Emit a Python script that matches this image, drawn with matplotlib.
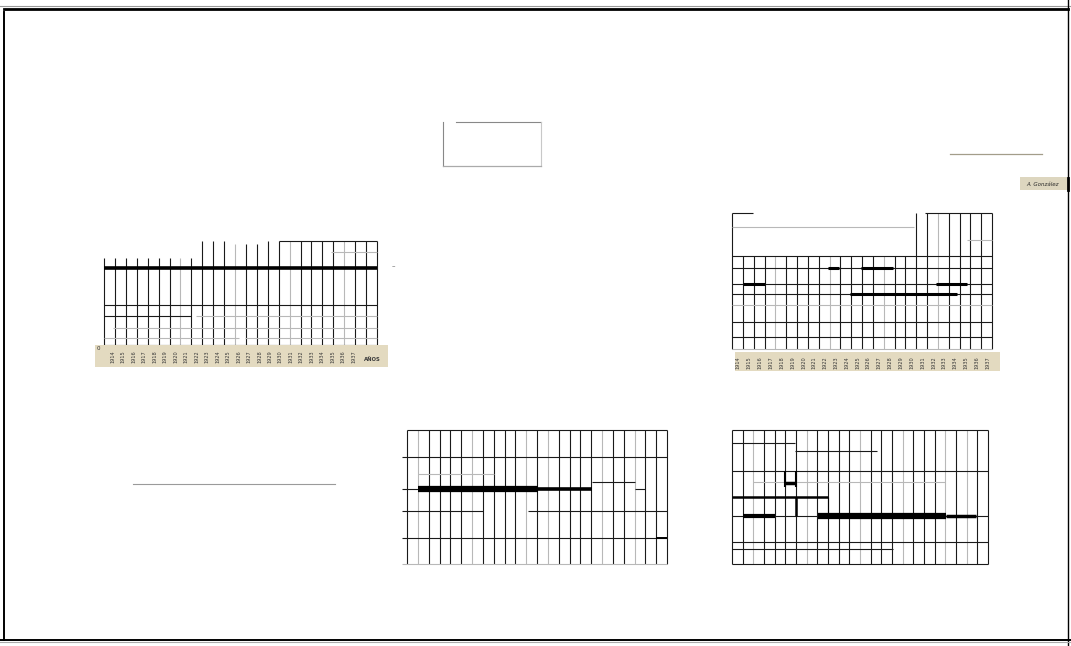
import numpy as np
import matplotlib
matplotlib.use("Agg")
import matplotlib.pyplot as plt
from matplotlib.lines import Line2D
from matplotlib.patches import Rectangle

W, H = 1071, 646

# years printed under the two labelled grids
YEARS = list(range(1914, 1938))

# --- grid A (top left), 25 columns, levels 0-100
A_TOPS = [83] * 9 + [99] * 3 + [96] * 3 + [99] * 11
A_GRAY = [7, 12, 17, 22]
A_LINES = [(99, 16, 25, "k"), (88.6, 20.8, 25, "g"), (38, 0, 25, "k"),
           (27.6, 0, 8, "k"), (27.6, 8.4, 25, "g"), (16, 0.8, 25, "g"),
           (6.7, 0, 12.4, "g"), (6.7, 12.9, 25, "g"), (0, 0, 25, "k")]
A_HEAVY = [(73, 0, 25, 2.6)]

# --- grid B (top right), 24 columns
B_TOPS = [100] + [68.4] * 16 + [100] * 8
B_GRAY = [4, 9, 14, 19]
B_LINES = [(100, 0, 1.9, "k"), (100, 17.8, 24, "k"), (89.7, 0, 16.8, "g"),
           (80, 21.7, 24, "g"), (68.4, 0, 24, "k"), (59.6, 0, 24, "k"),
           (47.8, 0, 24, "k"), (40.4, 0, 24, "k"), (32.4, 0, 24, "g"),
           (19.9, 0, 24, "k"), (8.8, 0, 24, "k"), (0, 0, 24, "g")]
B_HEAVY = [(59.6, 8.9, 9.9, 2.2), (59.6, 11.9, 14.9, 2.2),
           (47.8, 1.0, 3.0, 2.2), (47.8, 18.8, 21.7, 2.2),
           (40.4, 10.9, 20.8, 2.2)]

# --- grid C (bottom middle), 24 columns
C_TOPS = [100] * 25
C_GRAY = [1, 6, 11, 13, 18, 21]
C_LINES = [(100, 0, 24, "k"), (79.9, -0.5, 24, "k"), (67.2, 1, 8, "g"),
           (61.2, 17.1, 21, "k"), (56, -0.5, 1, "k"), (56, 21, 22, "k"),
           (39.6, -0.5, 7, "k"), (39.6, 11.2, 24, "k"), (19.4, -0.5, 24, "k"),
           (0, -0.5, 24, "g")]
C_HEAVY = [(56, 1.0, 12.1, 4.5), (56, 12.1, 17.1, 2.6), (19.4, 23, 24, 1.4)]

# --- grid D (bottom right), 24 columns
D_TOPS = [100] * 25
D_GRAY = [2, 7, 12, 16, 20, 22]
D_LINES = [(100, 0, 24, "k"), (90.5, 0, 5.9, "k"), (84.6, 5.9, 13.6, "k"),
           (69.6, 0, 24, "k"), (61, 2, 20, "g"), (36, 0, 24, "k"),
           (16.7, 0, 24, "k"), (11, 0, 15.1, "k"), (0, 0, 24, "k")]
D_HEAVY = [(50.2, 0, 9, 1.8), (36, 1, 4, 3), (36, 8.1, 20.1, 4.5),
           (36, 20.1, 22.9, 2.5), (60.5, 5, 6, 2.5)]
D_STEPS = [(6, 36, 50.2, 1.8), (9, 36, 50.2, 0.8), (5, 57.6, 69.6, 1.5),
           (6, 57.6, 69.6, 1.5)]

INK = {"k": "#1a1a1a", "g": "#b8b8b8"}
BEIGE = "#e3dac0"


def box(x0, y0, x1, y1):
    return [x0 / W, 1 - y1 / H, (x1 - x0) / W, (y1 - y0) / H]


def grid(fig, px, ncols, tops, gray, lines, heavy):
    ax = fig.add_axes(box(*px))
    ax.set_xlim(0, ncols)
    ax.set_ylim(0, 100)
    ax.axis("off")
    cols = np.arange(ncols + 1)
    colors = [INK["g"] if c in gray else INK["k"] for c in cols]
    ax.vlines(cols, 0, tops, colors=colors, lw=0.8, clip_on=False)
    for y, a, b, c in lines:
        ax.hlines(y, a, b, color=INK[c], lw=0.8, clip_on=False)
    for y, a, b, w in heavy:
        ax.hlines(y, a, b, color="black", lw=w, clip_on=False,
                  capstyle="butt")
    return ax


def year_band(fig, px, grid_px, ncols, offset, spacing=1.0, extra=None):
    gx0, gx1 = grid_px[0], grid_px[2]
    step = (gx1 - gx0) / ncols
    ax = fig.add_axes(box(*px))
    ax.set_xlim((px[0] - gx0) / step, (px[2] - gx0) / step)
    ax.set_ylim(0, 1)
    ax.set_xticks([])
    ax.set_yticks([])
    ax.set_facecolor(BEIGE)
    for s in ax.spines.values():
        s.set_visible(False)
    for i, yr in enumerate(YEARS):
        ax.text(offset + i * spacing, 0.45, str(yr), rotation=90,
                fontsize=3.6, ha="center", va="center", color="#3a3a3a")
    if extra:
        ax.text(extra, 0.35, "AÑOS", fontsize=3.8, ha="center", va="center",
                color="#3a3a3a", fontweight="bold")
    return ax


fig = plt.figure(figsize=(W / 100, H / 100), dpi=100)

A_PX = (104, 240, 377, 345)
B_PX = (732, 213, 992, 349)
C_PX = (407, 430, 667, 564)
D_PX = (732, 430, 988, 564)

ax_a = grid(fig, A_PX, 25, A_TOPS, A_GRAY, A_LINES, A_HEAVY)
ax_a.vlines(np.arange(26), -4, 0, colors="#444444", lw=0.7, clip_on=False)
year_band(fig, (95, 345, 388, 367), A_PX, 25, 0.8, spacing=0.96,
          extra=24.6)
fig.text(97 / W, 1 - 348 / H, "0", fontsize=4, color="#333333",
         ha="left", va="center")
fig.text(392 / W, 1 - 266 / H, "–", fontsize=5, color="#555555",
         ha="left", va="center")

grid(fig, B_PX, 24, B_TOPS, B_GRAY, B_LINES, B_HEAVY)
year_band(fig, (735, 352, 1000, 371), B_PX, 24, 0.6)

grid(fig, C_PX, 24, C_TOPS, C_GRAY, C_LINES, C_HEAVY)

ax_d = grid(fig, D_PX, 24, D_TOPS, D_GRAY, D_LINES, D_HEAVY)
for c, lo, hi, w in D_STEPS:
    ax_d.vlines(c, lo, hi, color="black", lw=w, clip_on=False)


def fline(xs, ys, **kw):
    fig.add_artist(Line2D([x / W for x in xs], [1 - y / H for y in ys],
                          transform=fig.transFigure, **kw))


# page frame
fline([0, 1071], [6, 6], color="#999999", lw=0.8)
fline([4, 1068], [8.5, 8.5], color="black", lw=2.0)
fline([4, 4], [12, 640], color="black", lw=1.4)
fline([1068, 1068], [0, 646], color="black", lw=1.0)
fline([0, 1071], [639.5, 639.5], color="black", lw=1.4)
fline([0, 1071], [642, 642], color="#aaaaaa", lw=0.8)

# small box and loose rules
fline([443, 443], [122, 166], color="#888888", lw=0.8)
fline([456, 541], [122, 122], color="#888888", lw=0.8)
fline([541, 541], [122, 166], color="#c8c8c8", lw=0.8)
fline([443, 541], [166, 166], color="#aaaaaa", lw=0.9)
fline([133, 335], [484, 484], color="#9a9a9a", lw=0.8)
fline([950, 1042], [154, 154], color="#a39d8a", lw=0.9)

# signature strip
fig.add_artist(Rectangle((1020 / W, 1 - 190 / H), 47 / W, 13 / H,
                         transform=fig.transFigure, facecolor="#ddd6bf",
                         edgecolor="none"))
fig.text(1043 / W, 1 - 184 / H, "A. González", fontsize=4, style="italic",
         color="#2a2a2a", ha="center", va="center")
fline([1068, 1068], [178, 190], color="black", lw=2.0)

fig.savefig("out.png", dpi=100, facecolor="white")
